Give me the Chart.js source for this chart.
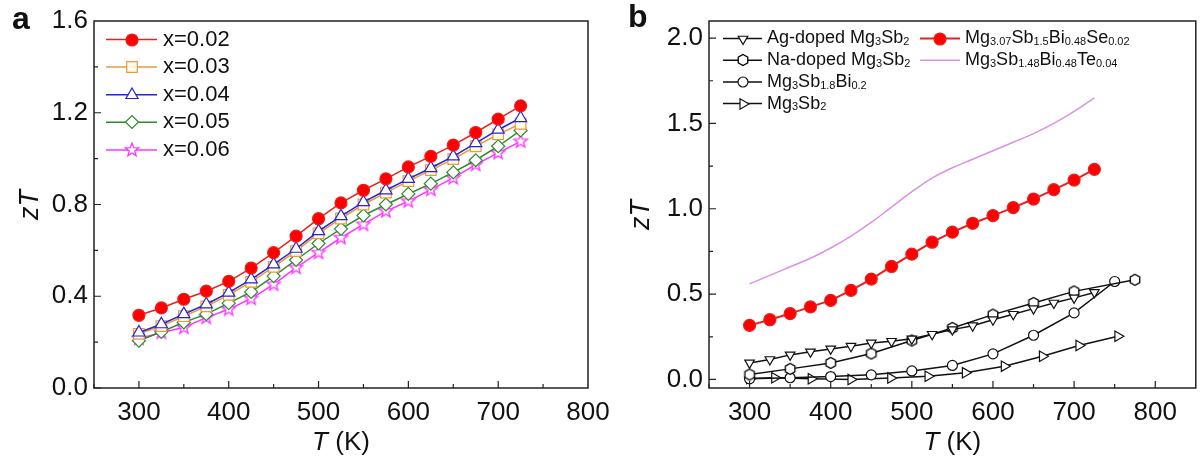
<!DOCTYPE html>
<html lang="en">
<head>
<meta charset="UTF-8">
<title>zT vs T</title>
<script src="https://cdn.jsdelivr.net/npm/chart.js@4.4.0/dist/chart.umd.min.js"></script>
<style>
  body { margin: 0; background: #fff; }
  canvas { position: absolute; top: 0; }
</style>
</head>
<body>
<canvas id="chartA" width="620" height="466" style="left:0;width:620px;height:466px"></canvas>
<canvas id="chartB" width="583" height="466" style="left:620px;width:583px;height:466px"></canvas>
<script>
// ---- panel a data ----
const tempA = [300, 325, 350, 375, 400, 425, 450, 475, 500, 525, 550, 575, 600, 625, 650, 675, 700, 725];
const zt002 = [0.317, 0.349, 0.387, 0.422, 0.465, 0.523, 0.590, 0.662, 0.738, 0.807, 0.862, 0.912, 0.964, 1.010, 1.059, 1.114, 1.172, 1.230];
const zt003 = [0.236, 0.270, 0.313, 0.356, 0.406, 0.463, 0.528, 0.597, 0.674, 0.739, 0.800, 0.852, 0.902, 0.950, 0.998, 1.054, 1.106, 1.152];
const zt004 = [0.242, 0.278, 0.322, 0.365, 0.416, 0.474, 0.539, 0.607, 0.684, 0.749, 0.810, 0.862, 0.912, 0.959, 1.010, 1.068, 1.126, 1.177];
const zt005 = [0.206, 0.245, 0.286, 0.322, 0.370, 0.419, 0.488, 0.558, 0.630, 0.694, 0.752, 0.800, 0.846, 0.891, 0.940, 0.993, 1.054, 1.123];
const zt006 = [0.215, 0.242, 0.264, 0.307, 0.343, 0.390, 0.452, 0.525, 0.590, 0.655, 0.713, 0.771, 0.814, 0.865, 0.916, 0.974, 1.025, 1.075];
const xTicksA = [300, 400, 500, 600, 700, 800];
const yTicksA = [0, 0.4, 0.8, 1.2, 1.6];

// ---- panel b data ----
const tempAg = [300, 325, 350, 375, 400, 425, 450, 475, 500, 525, 550, 575, 600, 625, 650, 675, 700, 725];
const ztAg = [0.097, 0.117, 0.144, 0.162, 0.179, 0.195, 0.214, 0.224, 0.238, 0.265, 0.292, 0.315, 0.350, 0.382, 0.415, 0.448, 0.478, 0.510];
const tempNa = [300, 350, 400, 450, 500, 550, 600, 650, 700, 775];
const ztNa = [0.029, 0.062, 0.097, 0.152, 0.228, 0.302, 0.380, 0.448, 0.516, 0.584];
const tempBi = [300, 350, 400, 450, 500, 550, 600, 650, 700, 750];
const ztBi = [0.004, 0.010, 0.017, 0.027, 0.050, 0.082, 0.150, 0.259, 0.390, 0.574];
const tempMg = [300, 331, 376, 425, 474, 520, 566, 614, 661, 706, 754];
const ztMg = [0.005, 0.010, 0.004, 0.000, 0.008, 0.019, 0.039, 0.078, 0.136, 0.199, 0.253];
const tempSe = [300, 325, 350, 375, 400, 425, 450, 475, 500, 525, 550, 575, 600, 625, 650, 675, 700, 725];
const ztSe = [0.317, 0.350, 0.386, 0.425, 0.463, 0.522, 0.588, 0.662, 0.734, 0.804, 0.863, 0.915, 0.960, 1.007, 1.057, 1.112, 1.168, 1.231];
const tempTe = [300, 325, 350, 375, 400, 425, 450, 475, 500, 525, 550, 575, 600, 625, 650, 675, 700, 725];
const ztTe = [0.56, 0.61, 0.66, 0.71, 0.77, 0.84, 0.92, 1.01, 1.10, 1.18, 1.24, 1.29, 1.34, 1.39, 1.44, 1.50, 1.57, 1.65];
const xTicksB = [300, 400, 500, 600, 700, 800];
const yTicksB = [0, 0.5, 1.0, 1.5, 2.0];

// legend texts, "_" marks a subscript number
const labelsA = ['x=0.02', 'x=0.03', 'x=0.04', 'x=0.05', 'x=0.06'];
const labelsB = ['Ag-doped Mg_3Sb_2', 'Na-doped Mg_3Sb_2', 'Mg_3Sb_1.8Bi_0.2', 'Mg_3Sb_2',
                 'Mg_3.07Sb_1.5Bi_0.48Se_0.02', 'Mg_3Sb_1.48Bi_0.48Te_0.04'];

const FONT = "'Liberation Sans', Arial, sans-serif";

function pts(xs, ys) {
    return xs.map((x, i) => ({ x: x, y: ys[i] }));
}

// small canvases for marker shapes chart.js does not have
function shapeMarker(r, color, path) {
    const c = document.createElement('canvas');
    const s = 2 * Math.ceil(r + 2);
    c.width = s; c.height = s;
    const g = c.getContext('2d');
    g.translate(s / 2, s / 2);
    g.beginPath();
    path(g, r);
    g.closePath();
    g.fillStyle = '#fff';
    g.fill();
    g.lineWidth = 1.3;
    g.strokeStyle = color;
    g.stroke();
    return c;
}
const hexagon = shapeMarker(5.5, '#000', (g, r) => {
    for (let k = 0; k < 6; k++) {
        const a = -Math.PI / 2 + k * Math.PI / 3;
        g.lineTo(r * Math.cos(a), r * Math.sin(a));
    }
});
const star = shapeMarker(7, '#ff33ff', (g, r) => {
    for (let k = 0; k < 10; k++) {
        const a = -Math.PI / 2 + k * Math.PI / 5;
        const rr = k % 2 ? r * 0.42 : r;
        g.lineTo(rr * Math.cos(a), rr * Math.sin(a));
    }
});

// frame, inward ticks, axis titles, panel letter, legend
const decorPlugin = {
    id: 'decor',
    afterDraw(chart, args, o) {
        const ctx = chart.ctx, a = chart.chartArea;
        const xs = chart.scales.x, ys = chart.scales.y;
        ctx.save();
        ctx.strokeStyle = '#222';
        ctx.lineWidth = 1.5;
        ctx.strokeRect(a.left, a.top, a.right - a.left, a.bottom - a.top);

        ctx.lineWidth = 1.2;
        ctx.beginPath();
        for (let v = o.xStep * Math.ceil(xs.min / o.xStep); v < xs.max; v += o.xStep) {
            const px = xs.getPixelForValue(v);
            const len = o.xMajor.includes(v) ? 7 : 4;
            ctx.moveTo(px, a.bottom);
            ctx.lineTo(px, a.bottom - len);
        }
        for (let i = 0; ; i++) {
            const v = +(o.yStep * (Math.ceil(ys.min / o.yStep) + i)).toFixed(3);
            if (v >= ys.max) break;
            const py = ys.getPixelForValue(v);
            const len = o.yMajor.some(m => Math.abs(m - v) < 1e-6) ? 7 : 4;
            ctx.moveTo(a.left, py);
            ctx.lineTo(a.left + len, py);
        }
        ctx.stroke();

        // x title: italic T + (K)
        ctx.fillStyle = '#111';
        ctx.textBaseline = 'middle';
        ctx.font = 'italic 26px ' + FONT;
        const w1 = ctx.measureText('T').width;
        ctx.font = '26px ' + FONT;
        const w2 = ctx.measureText(' (K)').width;
        const cx = (a.left + a.right) / 2 - (w1 + w2) / 2;
        ctx.textAlign = 'left';
        ctx.font = 'italic 26px ' + FONT;
        ctx.fillText('T', cx, o.xTitleY);
        ctx.font = '26px ' + FONT;
        ctx.fillText(' (K)', cx + w1, o.xTitleY);

        // y title: zT
        ctx.save();
        ctx.translate(o.yTitleX, o.yTitleY);
        ctx.rotate(-Math.PI / 2);
        ctx.textAlign = 'center';
        ctx.font = 'italic 27px ' + FONT;
        ctx.fillText('zT', 0, 0);
        ctx.restore();

        // panel letter
        ctx.font = 'bold 32px ' + FONT;
        ctx.textAlign = 'left';
        ctx.textBaseline = 'alphabetic';
        ctx.fillText(o.letter, o.letterX, o.letterY);

        // legend
        ctx.textBaseline = 'middle';
        o.legend.forEach(item => {
            const ds = chart.data.datasets[item.index];
            ctx.strokeStyle = ds.borderColor;
            ctx.lineWidth = ds.borderWidth;
            ctx.beginPath();
            ctx.moveTo(item.x1, item.y);
            ctx.lineTo(item.x2, item.y);
            ctx.stroke();
            if (ds.pointRadius > 0) {
                ctx.fillStyle = ds.pointBackgroundColor;
                ctx.strokeStyle = ds.borderColor;
                ctx.lineWidth = ds.pointBorderWidth || 1.2;
                Chart.helpers.drawPoint(ctx, {
                    pointStyle: ds.pointStyle, rotation: ds.pointRotation || 0,
                    radius: ds.pointRadius, borderWidth: ctx.lineWidth
                }, Math.round((item.x1 + item.x2) / 2), Math.round(item.y));
            }
            drawSubText(ctx, item.text, item.x2 + o.textGap, item.y, o.legendSize);
        });
        ctx.restore();
    }
};

function drawSubText(ctx, text, x, y, size) {
    const parts = text.split(/_([0-9.]+)/);
    ctx.fillStyle = '#111';
    ctx.textAlign = 'left';
    parts.forEach((p, i) => {
        if (!p) return;
        const sub = i % 2 === 1;
        ctx.font = (sub ? Math.round(size * 0.62) : size) + 'px ' + FONT;
        ctx.fillText(p, x, y + (sub ? size * 0.2 : 0));
        x += ctx.measureText(p).width;
    });
}

function axes(xMin, xMax, yMin, yMax, xTicks, yTicks, yWidth) {
    const tickFont = { family: FONT, size: 26 };
    return {
        x: {
            type: 'linear', min: xMin, max: xMax,
            grid: { display: false, drawTicks: false }, border: { display: false },
            afterBuildTicks: s => { s.ticks = xTicks.map(v => ({ value: v })); },
            afterFit: s => { s.height = 78; s.paddingLeft = 0; s.paddingRight = 0; },
            ticks: { font: tickFont, color: '#111', padding: 9, maxRotation: 0, autoSkip: false }
        },
        y: {
            type: 'linear', min: yMin, max: yMax,
            grid: { display: false, drawTicks: false }, border: { display: false },
            afterBuildTicks: s => { s.ticks = yTicks.map(v => ({ value: v })); },
            afterFit: s => { s.width = yWidth; s.paddingTop = 0; s.paddingBottom = 0; },
            ticks: { font: tickFont, color: '#111', padding: 6, autoSkip: false,
                     callback: v => Number(v).toFixed(1) }
        }
    };
}

function series(label, xs, ys, color, fill, style, radius, extra) {
    return Object.assign({
        label: label, data: pts(xs, ys),
        borderColor: color, backgroundColor: fill,
        pointBackgroundColor: fill, pointBorderColor: color,
        pointStyle: style, pointRadius: radius, pointBorderWidth: 1.2,
        borderWidth: 1.5, tension: 0
    }, extra || {});
}

const baseOpts = {
    responsive: false, animation: false, devicePixelRatio: 1,
    plugins: { legend: { display: false }, tooltip: { enabled: false } },
    elements: { point: { hoverRadius: 6 } }
};

new Chart(document.getElementById('chartA'), {
    type: 'line',
    data: {
        datasets: [
            series(labelsA[0], tempA, zt002, '#e8201e', '#ff0000', 'circle', 6, { order: 0 }),
            series(labelsA[1], tempA, zt003, '#e89a3c', '#fffbe6', 'rect', 7.5, { order: 2 }),
            series(labelsA[2], tempA, zt004, '#2424d8', '#ffffff', 'triangle', 7, { order: 1 }),
            series(labelsA[3], tempA, zt005, '#2f8a2f', '#ffffff', 'rectRot', 6.5, { order: 3 }),
            series(labelsA[4], tempA, zt006, '#ff33ff', '#ffffff', star, 7, { order: 4 })
        ]
    },
    options: Object.assign({}, baseOpts, {
        layout: { padding: { left: 0, right: 32, top: 21, bottom: 0 } },
        scales: axes(250, 800, 0, 1.6, xTicksA, yTicksA, 94),
        plugins: Object.assign({}, baseOpts.plugins, {
            decor: {
                xStep: 50, yStep: 0.2, xMajor: xTicksA, yMajor: yTicksA,
                xTitleY: 443, yTitleX: 30, yTitleY: 205,
                letter: 'a', letterX: 12, letterY: 29,
                legendSize: 22, textGap: 6,
                legend: labelsA.map((t, i) => ({ index: i, text: t, x1: 106, x2: 157, y: 39.5 + i * 27.6 }))
            }
        })
    }),
    plugins: [decorPlugin]
});

new Chart(document.getElementById('chartB'), {
    type: 'line',
    data: {
        datasets: [
            series('Ag-doped Mg3Sb2', tempAg, ztAg, '#111', '#fff', 'triangle', 5.5, { pointRotation: 180 }),
            series('Na-doped Mg3Sb2', tempNa, ztNa, '#111', '#fff', hexagon, 5.5),
            series('Mg3Sb1.8Bi0.2', tempBi, ztBi, '#111', '#fff', 'circle', 5),
            series('Mg3Sb2', tempMg, ztMg, '#111', '#fff', 'triangle', 6, { pointRotation: 90 }),
            series('Mg3.07Sb1.5Bi0.48Se0.02', tempSe, ztSe, '#e8201e', '#ff0000', 'circle', 6, { borderWidth: 2 }),
            series('Mg3Sb1.48Bi0.48Te0.04', tempTe, ztTe, '#dc8fe6', '#dc8fe6', 'circle', 0, { tension: 0.4 })
        ]
    },
    options: Object.assign({}, baseOpts, {
        layout: { padding: { left: 0, right: 2, top: 21, bottom: 0 } },
        scales: axes(250, 850, -0.05, 2.1, xTicksB, yTicksB, 89),
        plugins: Object.assign({}, baseOpts.plugins, {
            decor: {
                xStep: 50, yStep: 0.25, xMajor: xTicksB, yMajor: yTicksB,
                xTitleY: 443, yTitleX: 21, yTitleY: 215,
                letter: 'b', letterX: 8, letterY: 27,
                legendSize: 18, textGap: 5,
                legend: [0, 1, 2, 3].map(i => ({ index: i, text: labelsB[i], x1: 103, x2: 142, y: 38.5 + i * 21.7 }))
                    .concat([4, 5].map((i, k) => ({ index: i, text: labelsB[i], x1: 300, x2: 340, y: 38.5 + k * 21.7 })))
            }
        })
    }),
    plugins: [decorPlugin]
});
</script>
</body>
</html>
